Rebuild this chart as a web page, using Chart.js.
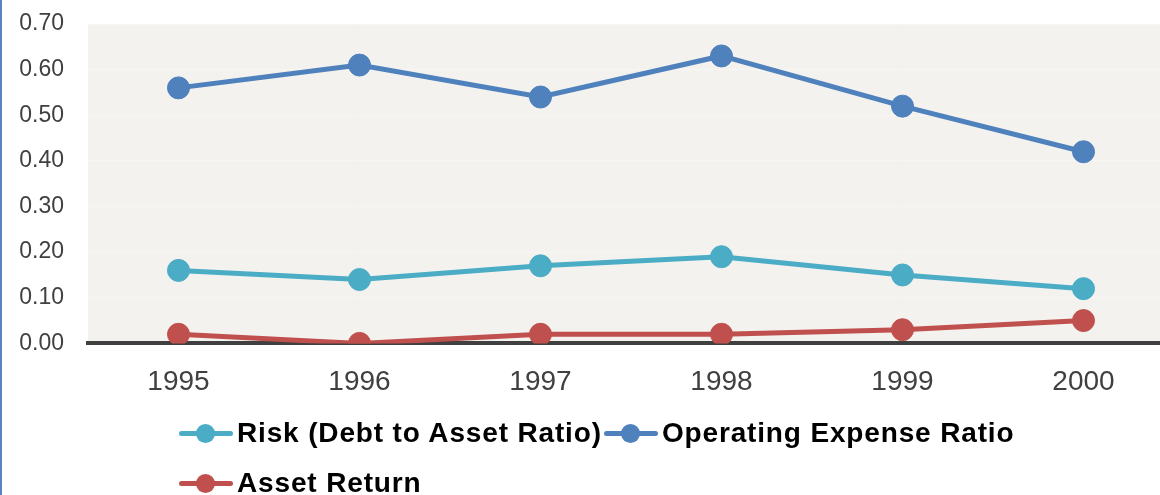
<!DOCTYPE html>
<html>
<head>
<meta charset="utf-8">
<script src="https://cdn.jsdelivr.net/npm/chart.js@4"></script>
<style>
  body { margin: 0; background: #fff; }
  #wrap { position: relative; width: 1158px; height: 495px; border-left: 2px solid #5b84bf; overflow: hidden; }
  #chart { position: absolute; left: 0; top: 0; }
  #legend { position: absolute; left: 177px; top: 408px; width: 880px; display: flex; flex-wrap: wrap;
            font: bold 28px "Liberation Sans", Arial, sans-serif; letter-spacing: 0.85px; color: #000; }
  .item { display: flex; align-items: center; height: 50px; margin-right: 2px; }
  .icon { position: relative; width: 54px; height: 20px; margin-right: 4px; }
  .icon .ln { position: absolute; left: 0; right: 0; top: 8px; height: 5px; border-radius: 3px; }
  .icon .dot { position: absolute; left: 17px; top: 1px; width: 19px; height: 19px; border-radius: 50%; }
</style>
</head>
<body>
<div id="wrap">
  <canvas id="chart" width="1172" height="421"></canvas>
  <div id="legend"></div>
</div>
<script>
// data
const years = ['1995', '1996', '1997', '1998', '1999', '2000'];
const riskValues = [0.16, 0.14, 0.17, 0.19, 0.15, 0.12];
const opexValues = [0.56, 0.61, 0.54, 0.63, 0.52, 0.42];
const returnValues = [0.02, 0.00, 0.02, 0.02, 0.03, 0.05];
const seriesNames = ['Risk (Debt to Asset Ratio)', 'Operating Expense Ratio', 'Asset Return'];
const seriesColors = ['#4bacc6', '#4f81bd', '#c0504d'];

const font = '"Liberation Sans", Arial, sans-serif';

function makeSet(i, values) {
  return {
    label: seriesNames[i],
    data: values,
    borderColor: seriesColors[i],
    backgroundColor: seriesColors[i],
    borderWidth: 5,
    pointRadius: 11,
    pointHoverRadius: 11,
    pointBorderWidth: 1,
    tension: 0
  };
}

// beige plot background
const plotBg = {
  id: 'plotBg',
  beforeDraw(chart) {
    const a = chart.chartArea;
    const c = chart.ctx;
    c.save();
    c.fillStyle = '#f3f2ee';
    c.fillRect(a.left, a.top, a.right - a.left, a.bottom - a.top);
    c.restore();
  }
};

const chart = new Chart(document.getElementById('chart'), {
  type: 'line',
  data: {
    labels: years,
    datasets: [makeSet(0, riskValues), makeSet(1, opexValues), makeSet(2, returnValues)]
  },
  options: {
    responsive: false,
    animation: false,
    layout: { autoPadding: false, padding: { top: 24, right: 0, bottom: 0, left: 0 } },
    plugins: { legend: { display: false }, tooltip: { enabled: false } },
    scales: {
      x: {
        offset: true,
        grid: { display: false, drawTicks: false },
        border: { display: true, color: '#404040', width: 4 },
        ticks: { padding: 22, color: '#404040', font: { family: font, size: 28 } }
      },
      y: {
        min: 0,
        max: 0.7,
        afterFit(scale) { scale.width = 86; },
        // invisible tick marks keep the labels away from the plot
        grid: { color: '#f7f6f3', lineWidth: 1, drawTicks: true, tickLength: 24, tickColor: 'rgba(0,0,0,0)' },
        border: { display: false },
        ticks: {
          stepSize: 0.1,
          padding: 0,
          color: '#404040',
          font: { family: font, size: 23 },
          callback: v => v.toFixed(2)
        }
      }
    }
  },
  plugins: [plotBg]
});

// html legend, excel style: line with a dot
const legendEl = document.getElementById('legend');
chart.data.datasets.forEach(ds => {
  const item = document.createElement('div');
  item.className = 'item';
  item.innerHTML = `<span class="icon"><span class="ln" style="background:${ds.borderColor}"></span>` +
    `<span class="dot" style="background:${ds.borderColor}"></span></span><span>${ds.label}</span>`;
  legendEl.appendChild(item);
});
</script>
</body>
</html>
